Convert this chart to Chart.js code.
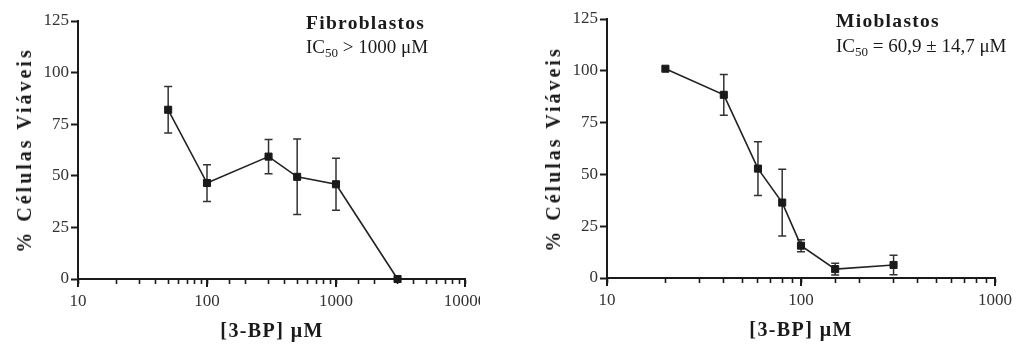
<!DOCTYPE html>
<html>
<head>
<meta charset="utf-8">
<script src="https://cdn.jsdelivr.net/npm/chart.js@4"></script>
<style>
  html, body { margin: 0; padding: 0; background: #fff; }
  body { width: 1017px; height: 345px; position: relative; overflow: hidden; font-family: "Liberation Serif", "Times New Roman", serif; color: #1a1a1a; }
  .box { position: absolute; top: 0; height: 345px; }
  .txt { position: absolute; white-space: nowrap; line-height: 1; }
  .head { font-weight: bold; font-size: 19.5px; letter-spacing: 1.3px; }
  .ic { font-size: 19px; }
  .ic span { font-size: 13px; position: relative; top: 4px; }
  .ytitle { font-weight: bold; font-size: 20px; letter-spacing: 3px; transform: translate(-50%, -50%) rotate(-90deg); }
  .xtitle { font-weight: bold; font-size: 20px; letter-spacing: 1.4px; transform: translateX(-50%); }
</style>
</head>
<body>
<div class="box" id="boxL" style="left:0;width:480px"><canvas id="fibro"></canvas></div>
<div class="box" id="boxR" style="left:529px;width:488px"><canvas id="mio"></canvas></div>

<div class="txt head" style="left:306px;top:13px">Fibroblastos</div>
<div class="txt ic" style="left:306px;top:37px">IC<span>50</span> &gt; 1000 μM</div>
<div class="txt head" style="left:836px;top:11px">Mioblastos</div>
<div class="txt ic" style="left:836px;top:36px">IC<span>50</span> = 60,9 ± 14,7 μM</div>

<div class="txt ytitle" style="left:24px;top:150px">% Células Viáveis</div>
<div class="txt ytitle" style="left:553px;top:149px">% Células Viáveis</div>
<div class="txt xtitle" style="left:272px;top:320px">[3-BP] μM</div>
<div class="txt xtitle" style="left:801px;top:319px">[3-BP] μM</div>

<script>
// ===== data =====
const yTicks = [0, 25, 50, 75, 100, 125];

const fibroDose = [50, 100, 300, 500, 1000, 3000];
const fibroViab = [82, 46.5, 59.3, 49.5, 45.9, 0];
const fibroErr  = [11.3, 8.9, 8.3, 18.3, 12.6, 0];

const mioDose = [20, 40, 60, 80, 100, 150, 300];
const mioViab = [101, 88.4, 52.8, 36.4, 15.6, 4.3, 6.3];
const mioErr  = [0, 9.8, 13, 16.1, 2.9, 2.8, 4.7];

const INK = '#1a1a1a';

const isDecade = v => /^10*$/.test(String(v));

// error bars drawn with the chart's own scales
const errorBars = {
  id: 'errorBars',
  beforeDatasetsDraw(chart) {
    const { ctx, scales: { x, y } } = chart;
    ctx.save();
    ctx.strokeStyle = '#333';
    ctx.lineWidth = 1.5;
    chart.data.datasets.forEach(ds => {
      (ds.errors || []).forEach((e, i) => {
        if (!e) return;
        const p = ds.data[i];
        const px = x.getPixelForValue(p.x);
        const top = y.getPixelForValue(p.y + e);
        const bot = y.getPixelForValue(p.y - e);
        ctx.beginPath();
        ctx.moveTo(px, top); ctx.lineTo(px, bot);
        ctx.moveTo(px - 4, top); ctx.lineTo(px + 4, top);
        ctx.moveTo(px - 4, bot); ctx.lineTo(px + 4, bot);
        ctx.stroke();
      });
    });
    ctx.restore();
  }
};

// decade ticks on the log axis are a little longer than the minor ones
const majorTicks = {
  id: 'majorTicks',
  afterDraw(chart) {
    const { ctx, scales: { x } } = chart;
    ctx.save();
    ctx.strokeStyle = INK;
    ctx.lineWidth = 2;
    x.ticks.forEach(t => {
      if (!isDecade(t.value)) return;
      const px = x.getPixelForValue(t.value);
      ctx.beginPath();
      ctx.moveTo(px, x.top);
      ctx.lineTo(px, x.top + 8);
      ctx.stroke();
    });
    ctx.restore();
  }
};

function makeChart(canvas, dose, viab, err, xMax, pad, xHeight) {
  return new Chart(canvas, {
    type: 'line',
    data: {
      datasets: [{
        data: dose.map((d, i) => ({ x: d, y: viab[i] })),
        errors: err,
        borderColor: '#222',
        borderWidth: 1.6,
        pointStyle: 'rect',
        pointRadius: 5,
        pointBorderWidth: 1,
        pointBackgroundColor: INK,
        pointBorderColor: INK,
        tension: 0,
        clip: false
      }]
    },
    plugins: [errorBars, majorTicks],
    options: {
      responsive: true,
      maintainAspectRatio: false,
      animation: false,
      events: [],
      layout: { padding: pad },
      plugins: { legend: { display: false }, tooltip: { enabled: false } },
      scales: {
        x: {
          type: 'logarithmic',
          min: 10,
          max: xMax,
          afterFit(s) { s.height = xHeight; s.paddingLeft = 0; s.paddingRight = 0; },
          border: { display: true, color: INK, width: 2 },
          grid: {
            drawOnChartArea: false,
            drawTicks: true,
            tickLength: 5,
            tickColor: INK,
            tickWidth: 1.6
          },
          ticks: {
            autoSkip: false,
            maxRotation: 0,
            padding: 7,
            color: '#333',
            font: { family: '"Liberation Serif", serif', size: 17 },
            callback: v => isDecade(v) ? String(v) : ''
          }
        },
        y: {
          min: 0,
          max: 125,
          afterFit(s) { s.width = 78; s.paddingTop = 0; s.paddingBottom = 0; },
          afterBuildTicks(s) { s.ticks = yTicks.map(v => ({ value: v })); },
          border: { display: true, color: INK, width: 2 },
          grid: { drawOnChartArea: false, drawTicks: true, tickLength: 7, tickColor: INK, tickWidth: 2 },
          ticks: {
            padding: 2,
            color: '#333',
            font: { family: '"Liberation Serif", serif', size: 17 }
          }
        }
      }
    }
  });
}

makeChart(document.getElementById('fibro'), fibroDose, fibroViab, fibroErr, 10000,
  { top: 21, right: 15, bottom: 0, left: 0 }, 66);
makeChart(document.getElementById('mio'), mioDose, mioViab, mioErr, 1000,
  { top: 19, right: 22, bottom: 0, left: 0 }, 67);
</script>
</body>
</html>
